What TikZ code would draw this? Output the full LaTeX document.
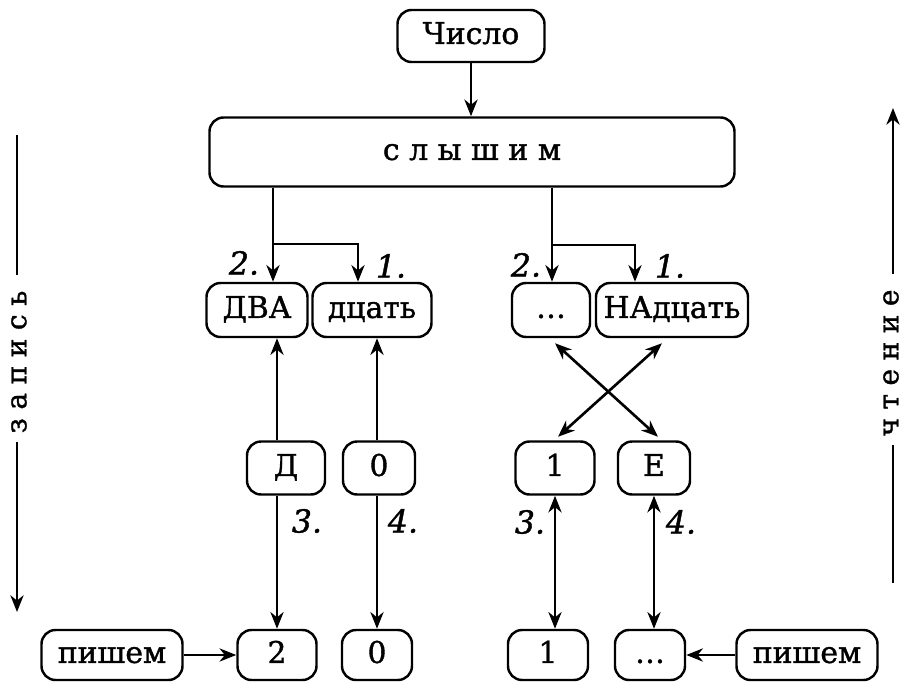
\documentclass[tikz,border=0pt]{standalone}
\usepackage{fontspec}
\setmainfont{DejaVu Serif}[RawFeature={embolden=1.2}]
\usetikzlibrary{arrows.meta,calc}
\begin{document}
\begin{tikzpicture}[x=0.02cm,y=-0.02cm,
  box/.style={draw, line width=1.4pt, rounded corners=8pt, inner sep=0pt,
    font=\fontsize{17}{20}\selectfont, text height=12.5pt, text depth=3.5pt},
  sz/.style 2 args={minimum width={#1*0.02cm}, minimum height={#2*0.02cm}},
  tip/.tip={Stealth[length=9.5pt,width=7.5pt,inset=3pt]},
  arr/.style={line width=1.5pt, -tip},
  dbl/.style={line width=1.5pt, tip-tip},
  lbl/.style={font=\fontsize{18}{20}\selectfont\itshape},
  side/.style={line width=1.4pt},
  sidetext/.style={rotate=90, inner sep=0pt, font=\fontsize{16}{18}\selectfont}]
\useasboundingbox (0,0) rectangle (904,683);

% main chain
\node[box, sz={147}{52}] (num)  at (471,36)  {Число};
\node[box, sz={525}{69}] (hear) at (472,152) {с\hspace{0.32em}л\hspace{0.32em}ы\hspace{0.32em}ш\hspace{0.32em}и\hspace{0.32em}м};

% words heard
\node[box, sz={101}{54}] (dva)   at (257,310) {ДВА};
\node[box, sz={119}{54}] (dcat)  at (372,310) {дцать};
\node[box, sz={78}{54}]  (dots1) at (551,310) {\dots};
\node[box, sz={152}{54}] (nadc)  at (672,310) {НАдцать};

% letters / digits in the middle row
\node[box, sz={78}{53}] (d)     at (286,468) {Д};
\node[box, sz={72}{53}] (zero1) at (379,468) {0};
\node[box, sz={79}{53}] (one1)  at (555,468) {1};
\node[box, sz={72}{53}] (e)     at (654,468) {Е};

% written number
\node[box, sz={141}{50}] (write1) at (112,655) {пишем};
\node[box, sz={79}{50}]  (two)    at (277,655) {2};
\node[box, sz={70}{50}]  (zero2)  at (377,655) {0};
\node[box, sz={80}{50}]  (one2)   at (548,655) {1};
\node[box, sz={70}{50}]  (dots2)  at (650,655) {\dots};
\node[box, sz={141}{50}] (write2) at (807,655) {пишем};

% top arrows
\draw[arr] (num.south) -- (num.south |- hear.north);

\coordinate (j1) at (273,244);
\coordinate (k1) at (358,244);
\draw[arr] (hear.south -| j1) -- (dva.north -| j1);
\draw[arr] (j1) -- (k1) -- (k1 |- dcat.north);

\coordinate (j2) at (552,245);
\coordinate (k2) at (635,245);
\draw[arr] (hear.south -| j2) -- (dots1.north -| j2);
\draw[arr] (j2) -- (k2) -- (k2 |- nadc.north);

\node[lbl] (l2a) at (244,263) {2.};
\node[lbl] (l1a) at (391,266) {1.};
\node[lbl] (l2b) at (526,265) {2.};
\node[lbl] (l1b) at (670,266) {1.};

% left column: writing
\draw[arr] (d.north -| two) -- (dva.south -| two);
\draw[arr] (zero1.north -| zero2) -- (dcat.south -| zero2);
\draw[arr] (d.south -| two) -- (two.north);
\draw[arr] (zero1.south -| zero2) -- (zero2.north);
\draw[arr] (write1) -- (two);

\node[lbl] (l3a) at (307,521) {3.};
\node[lbl] (l4a) at (403,521) {4.};

% right column: reading
\draw[dbl] ($(dots1.south)+(4,5)$) -- ($(e.north)+(4,-3.5)$);
\draw[dbl] ($(nadc.south)+(-10,5)$) -- ($(one1.north)+(3,-3.5)$);
\draw[dbl] (one1.south) -- (one2.north -| one1);
\draw[dbl] (e.south) -- (dots2.north -| e);
\draw[arr] (write2) -- (dots2);

\node[lbl] (l3b) at (530,522) {3.};
\node[lbl] (l4b) at (681,522) {4.};

% side directions
\coordinate (la) at (17,135);
\coordinate (lb) at (17,275);
\coordinate (lc) at (17,442);
\coordinate (ld) at (17,612);
\draw[side] (la) -- (lb);
\draw[side, -tip] (lc) -- (ld);
\node[sidetext] (rec) at (19,362) {з\hspace{0.3em}а\hspace{0.3em}п\hspace{0.3em}и\hspace{0.3em}с\hspace{0.3em}ь};

\coordinate (ra) at (893,108);
\coordinate (rb) at (893,274);
\coordinate (rc) at (893,445);
\coordinate (rd) at (893,583);
\draw[side, -tip] (rb) -- (ra);
\draw[side] (rc) -- (rd);
\node[sidetext] (read) at (891,363) {ч\hspace{0.3em}т\hspace{0.3em}е\hspace{0.3em}н\hspace{0.3em}и\hspace{0.3em}е};
\end{tikzpicture}
\end{document}
